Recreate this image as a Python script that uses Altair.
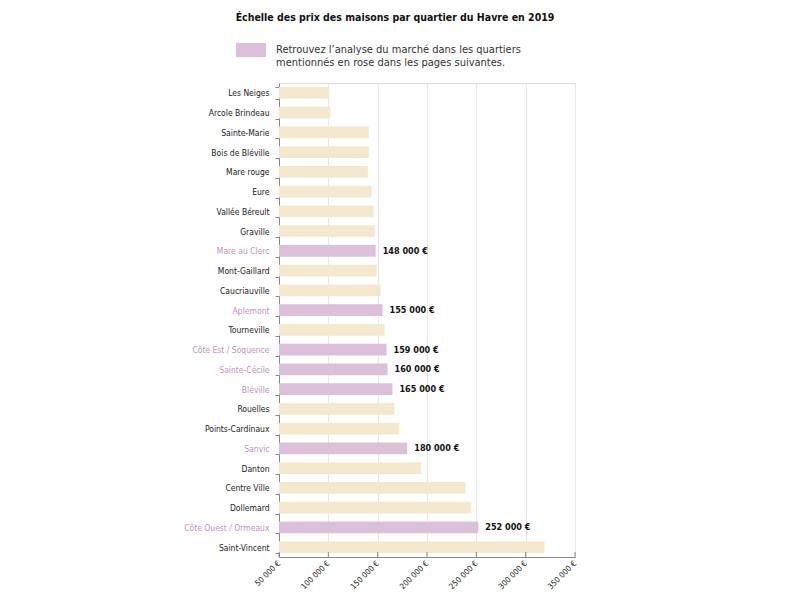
import altair as alt
import pandas as pd

quartiers = ["Les Neiges", "Arcole Brindeau", "Sainte-Marie", "Bois de Bléville", "Mare rouge",
             "Eure", "Vallée Béreult", "Graville", "Mare au Clerc", "Mont-Gaillard",
             "Caucriauville", "Aplemont", "Tourneville", "Côte Est / Soquence", "Sainte-Cécile",
             "Bléville", "Rouelles", "Points-Cardinaux", "Sanvic", "Danton",
             "Centre Ville", "Dollemard", "Côte Ouest / Ormeaux", "Saint-Vincent"]
prix = [101000, 102000, 141000, 141000, 140000,
        144000, 146000, 147000, 148000, 149000,
        153000, 155000, 157000, 159000, 160000,
        165000, 167000, 172000, 180000, 194000,
        239000, 245000, 252000, 319000]
roses = ["Mare au Clerc", "Aplemont", "Côte Est / Soquence", "Sainte-Cécile",
         "Bléville", "Sanvic", "Côte Ouest / Ormeaux"]
x_ticks = [50000, 100000, 150000, 200000, 250000, 300000, 350000]

PINK = "#dcc0da"
BEIGE = "#f4e9cf"
PINK_TXT = "#c48fbf"
DARK = "#222222"
NARROW = "DejaVu Sans Condensed, sans-serif"

df = pd.DataFrame({
    "quartier": quartiers,
    "prix": prix,
    "groupe": ["rose" if q in roses else "beige" for q in quartiers],
})
df["label"] = [f"{v:,}".replace(",", " ") + " €" for v in prix]

W, H = 296, 474

y_enc = alt.Y("quartier:N", sort=quartiers,
              scale=alt.Scale(paddingInner=0.4, paddingOuter=0.2),
              axis=alt.Axis(title=None, tickBand="extent", tickSize=4, tickColor="#888",
                            domainColor="#888", labelPadding=6, labelFont=NARROW,
                            labelFontSize=8.5,
                            labelColor={"condition": {"test": "indexof(" + str(roses).replace("'", '"') + ", datum.value) >= 0",
                                                      "value": PINK_TXT},
                                        "value": DARK}))

x_scale = alt.Scale(domain=[50000, 350000], nice=False, zero=False)

bars = alt.Chart(df).mark_bar().encode(
    x=alt.X("prix:Q", scale=x_scale,
            axis=alt.Axis(title=None, values=x_ticks, grid=True, gridColor="#e6e6e6",
                          ticks=False, domainColor="#888", labelAngle=315,
                          labelAlign="right", labelBaseline="middle", labelPadding=5,
                          labelFont=NARROW, labelFontSize=8, labelColor=DARK,
                          labelExpr="replace(format(datum.value, ','), ',', ' ') + ' €'")),
    x2=alt.datum(50000),
    y=y_enc,
    color=alt.Color("groupe:N",
                    scale=alt.Scale(domain=["rose", "beige"], range=[PINK, BEIGE]),
                    legend=alt.Legend(
                        title=None, values=["rose"], orient="none",
                        legendX=-43, legendY=-48, padding=0,
                        symbolType="M-1,-0.467H1V0.467H-1Z", symbolSize=900,
                        symbolStrokeWidth=0, symbolOpacity=1,
                        labelExpr="['Retrouvez l’analyse du marché dans les quartiers', 'mentionnés en rose dans les pages suivantes.']",
                        labelFont=NARROW, labelFontSize=11, labelColor="#333",
                        labelOffset=10, labelLimit=400, labelBaseline="middle")),
)

labels = alt.Chart(df).transform_filter(
    alt.FieldOneOfPredicate(field="groupe", oneOf=["rose"])
).mark_text(align="left", baseline="middle", dx=7, font=NARROW, fontSize=9,
            fontWeight="bold", color="#111").encode(
    x=alt.X("prix:Q", scale=x_scale),
    y=alt.Y("quartier:N", sort=quartiers),
    text="label:N",
)

ticks_df = pd.DataFrame({"t": x_ticks})
xticks = alt.Chart(ticks_df).mark_rule(color="#888", strokeWidth=1).encode(
    x=alt.X("t:Q", scale=x_scale),
    y=alt.value(H - 5),
    y2=alt.value(H),
)

chart = alt.layer(bars, labels, xticks).properties(
    width=W, height=H,
    title=alt.TitleParams("Échelle des prix des maisons par quartier du Havre en 2019",
                          anchor="middle", frame="group", dx=-32, offset=12,
                          font=NARROW, fontSize=10.5, fontWeight="bold", color="#111"),
    autosize=alt.AutoSizeParams(type="none"),
    padding={"left": 271, "top": 75, "right": 200, "bottom": 34},
).configure_view(stroke=None).configure(background="white")

chart.save("out.html", embed_options={"renderer": "svg", "actions": False})
